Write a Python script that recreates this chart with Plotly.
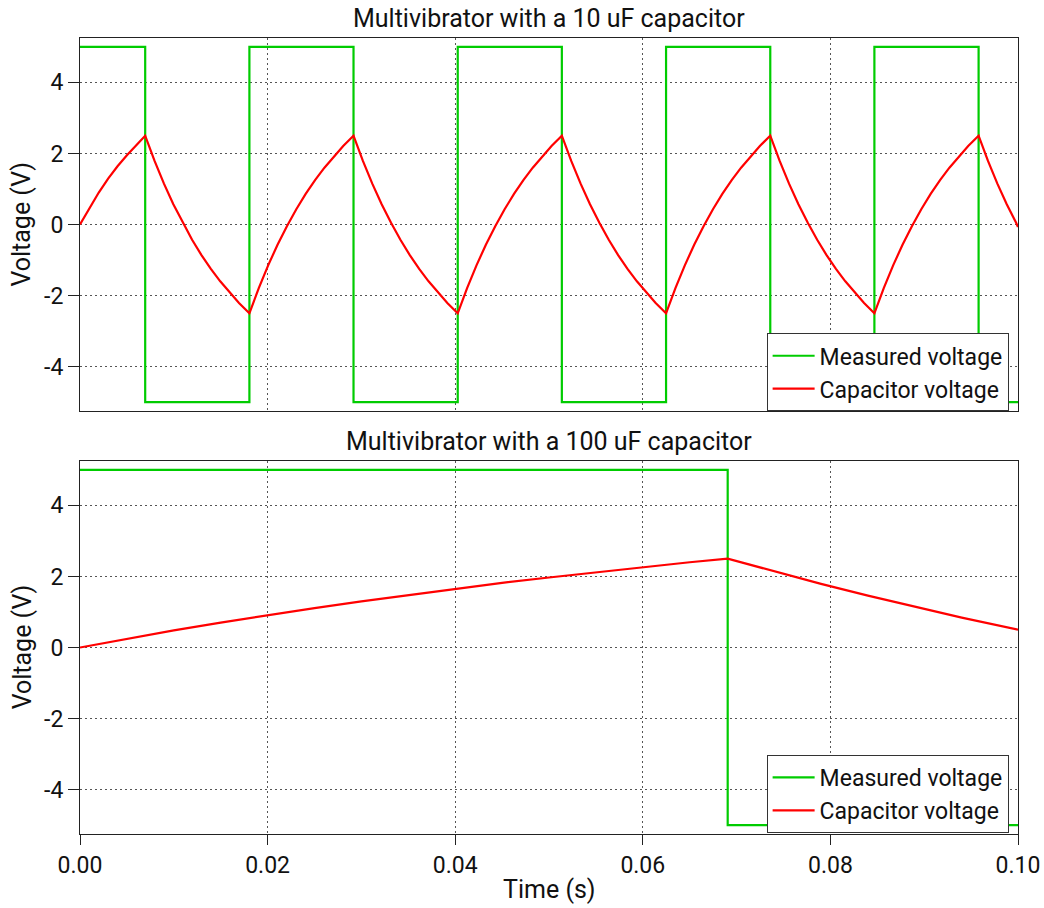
import plotly.graph_objects as go

# ---------------- data ----------------
# 10 uF: square wave switching instants (s) and levels (V)
sq10_t = [0.0, 0.00695, 0.01806, 0.02916, 0.04027, 0.05137, 0.06248, 0.07359, 0.08469, 0.09580, 0.1]
sq10_v = [5, -5, 5, -5, 5, -5, 5, -5, 5, -5, -5]

# 10 uF: capacitor voltage samples
cap10_t = [0.0, 0.001, 0.002, 0.003, 0.004, 0.005, 0.006, 0.00695,
           0.00795, 0.00895, 0.00995, 0.01095, 0.01195, 0.01295, 0.01395, 0.01495, 0.01595, 0.01695, 0.01806,
           0.01906, 0.02006, 0.02106, 0.02206, 0.02306, 0.02406, 0.02506, 0.02606, 0.02706, 0.02806, 0.02916,
           0.03016, 0.03116, 0.03216, 0.03316, 0.03416, 0.03516, 0.03616, 0.03716, 0.03816, 0.03916, 0.04027,
           0.04127, 0.04227, 0.04327, 0.04427, 0.04527, 0.04627, 0.04727, 0.04827, 0.04927, 0.05027, 0.05137,
           0.05237, 0.05337, 0.05437, 0.05537, 0.05637, 0.05737, 0.05837, 0.05937, 0.06037, 0.06137, 0.06248,
           0.06348, 0.06448, 0.06548, 0.06648, 0.06748, 0.06848, 0.06948, 0.07048, 0.07148, 0.07248, 0.07359,
           0.07459, 0.07559, 0.07659, 0.07759, 0.07859, 0.07959, 0.08059, 0.08159, 0.08259, 0.08359, 0.08469,
           0.08569, 0.08669, 0.08769, 0.08869, 0.08969, 0.09069, 0.09169, 0.09269, 0.09369, 0.09469, 0.09580,
           0.09680, 0.09780, 0.09880, 0.09980, 0.1]
cap10_v = [0.0, 0.47, 0.90, 1.29, 1.64, 1.95, 2.24, 2.50,
           1.79, 1.15, 0.57, 0.05, -0.43, -0.86, -1.25, -1.60, -1.92, -2.21, -2.50,
           -1.79, -1.15, -0.57, -0.05, 0.43, 0.86, 1.25, 1.60, 1.92, 2.21, 2.50,
           1.79, 1.15, 0.57, 0.05, -0.43, -0.86, -1.25, -1.60, -1.92, -2.21, -2.50,
           -1.79, -1.15, -0.57, -0.05, 0.43, 0.86, 1.25, 1.60, 1.92, 2.21, 2.50,
           1.79, 1.15, 0.57, 0.05, -0.43, -0.86, -1.25, -1.60, -1.92, -2.21, -2.50,
           -1.79, -1.15, -0.57, -0.05, 0.43, 0.86, 1.25, 1.60, 1.92, 2.21, 2.50,
           1.79, 1.15, 0.57, 0.05, -0.43, -0.86, -1.25, -1.60, -1.92, -2.21, -2.50,
           -1.79, -1.15, -0.57, -0.05, 0.43, 0.86, 1.25, 1.60, 1.92, 2.21, 2.50,
           1.79, 1.15, 0.57, 0.05, -0.07]

# 100 uF: square wave
sq100_t = [0.0, 0.06905, 0.1]
sq100_v = [5, -5, -5]

# 100 uF: capacitor voltage samples
cap100_t = [0.0, 0.005, 0.010, 0.015, 0.020, 0.025, 0.030, 0.035, 0.040, 0.045, 0.050, 0.055,
            0.060, 0.065, 0.06905, 0.074, 0.079, 0.084, 0.089, 0.094, 0.1]
cap100_v = [0.0, 0.25, 0.48, 0.70, 0.91, 1.11, 1.30, 1.48, 1.65, 1.82, 1.97, 2.12,
            2.26, 2.40, 2.50, 2.14, 1.79, 1.46, 1.14, 0.84, 0.50]

titles = ["Multivibrator with a 10 uF capacitor", "Multivibrator with a 100 uF capacitor"]
x_ticks = [0.0, 0.02, 0.04, 0.06, 0.08, 0.1]
x_labels = ["0.00", "0.02", "0.04", "0.06", "0.08", "0.10"]
y_ticks = [-4, -2, 0, 2, 4]
y_labels = ["-4", "-2", "0", "2", "4"]

GREEN = "#00cc00"
RED = "#ff0000"
FONT = "Roboto"

fig = go.Figure()

fig.add_trace(go.Scatter(x=sq10_t, y=sq10_v, mode="lines", line=dict(color=GREEN, width=2.2, shape="hv"),
                         name="Measured voltage", xaxis="x", yaxis="y", legend="legend"))
fig.add_trace(go.Scatter(x=cap10_t, y=cap10_v, mode="lines", line=dict(color=RED, width=2.2),
                         name="Capacitor voltage", xaxis="x", yaxis="y", legend="legend"))
fig.add_trace(go.Scatter(x=sq100_t, y=sq100_v, mode="lines", line=dict(color=GREEN, width=2.2, shape="hv"),
                         name="Measured voltage", xaxis="x2", yaxis="y2", legend="legend2"))
fig.add_trace(go.Scatter(x=cap100_t, y=cap100_v, mode="lines", line=dict(color=RED, width=2.2),
                         name="Capacitor voltage", xaxis="x2", yaxis="y2", legend="legend2"))

axis_common = dict(showline=True, linecolor="#222", linewidth=1, mirror=True,
                   showgrid=True, gridcolor="#555", gridwidth=1, griddash="2px,3px",
                   zeroline=False, tickcolor="#222", tickwidth=1, automargin=False,
                   tickfont=dict(family=FONT, size=23, color="#111"))

legend_common = dict(x=0.990, xanchor="right", yanchor="middle", itemwidth=42,
                     bgcolor="white", bordercolor="#333", borderwidth=1,
                     font=dict(family=FONT, size=23, color="#111"), tracegroupgap=0)

fig.update_layout(
    width=1044, height=908,
    margin=dict(l=80, r=26, t=38, b=74),
    paper_bgcolor="white", plot_bgcolor="white",
    font=dict(family=FONT, color="#111"),
    xaxis=dict(domain=[0, 1], anchor="y", range=[0, 0.1], tickvals=x_ticks,
               showticklabels=False, ticks="", **axis_common),
    yaxis=dict(domain=[0.5314, 1], anchor="x", range=[-5.25, 5.25], tickvals=y_ticks, ticktext=y_labels,
               ticks="outside", ticklen=11, **axis_common),
    xaxis2=dict(domain=[0, 1], anchor="y2", range=[0, 0.1], tickvals=x_ticks, ticktext=x_labels,
                ticks="outside", ticklen=10, **axis_common),
    yaxis2=dict(domain=[0, 0.4686], anchor="x2", range=[-5.25, 5.25], tickvals=y_ticks, ticktext=y_labels,
                ticks="outside", ticklen=11, **axis_common),
    legend=dict(y=0.580, **legend_common),
    legend2=dict(y=0.0503, **legend_common),
    showlegend=True,
)

annos = [
    dict(text=titles[0], x=0.5, y=1.0239, xref="paper", yref="paper", showarrow=False,
         xanchor="center", yanchor="middle", font=dict(family=FONT, size=25, color="#111")),
    dict(text=titles[1], x=0.5, y=0.4937, xref="paper", yref="paper", showarrow=False,
         xanchor="center", yanchor="middle", font=dict(family=FONT, size=25, color="#111")),
    dict(text="Voltage (V)", x=-0.0618, y=0.7656, xref="paper", yref="paper", showarrow=False,
         textangle=-90, xanchor="center", yanchor="middle", font=dict(family=FONT, size=25, color="#111")),
    dict(text="Voltage (V)", x=-0.0618, y=0.2345, xref="paper", yref="paper", showarrow=False,
         textangle=-90, xanchor="center", yanchor="middle", font=dict(family=FONT, size=25, color="#111")),
    dict(text="Time (s)", x=0.5, y=-0.0691, xref="paper", yref="paper", showarrow=False,
         xanchor="center", yanchor="middle", font=dict(family=FONT, size=25, color="#111")),
]
fig.update_layout(annotations=annos)

fig.write_html("out.html", config={"displayModeBar": False})

# remove the browser's default page margin so the figure sits at the window's top-left corner
with open("out.html", "r", encoding="utf-8") as f:
    page = f.read()
page = page.replace("<head>", "<head><style>html,body{margin:0;padding:0;overflow:hidden;}</style>", 1)
with open("out.html", "w", encoding="utf-8") as f:
    f.write(page)
